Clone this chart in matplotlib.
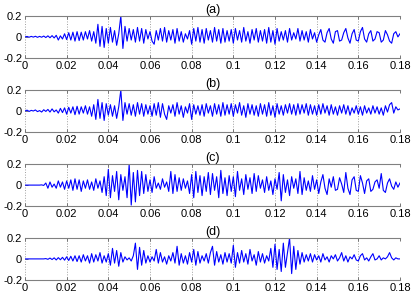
import numpy as np
import matplotlib
matplotlib.use("Agg")
import matplotlib.pyplot as plt

# sample spacing of the four records (s)
step = 0.001

# values, one per millisecond
sig_a = [
    0.000, 0.004, -0.003, 0.005, -0.002, 0.006, -0.004, 0.005, -0.003, 0.008,
    -0.006, 0.010, -0.008, 0.012, -0.010, 0.015, -0.030, 0.010, -0.020, 0.030,
    -0.025, 0.040, -0.030, 0.045, -0.040, 0.050, -0.035, 0.045, -0.030, 0.050,
    -0.020, 0.060, -0.040, 0.050, -0.060, 0.120, -0.090, 0.100, -0.100, 0.080,
    -0.060, 0.090, -0.050, 0.060, -0.080, 0.030, 0.200, -0.110, 0.100, -0.040,
    0.080, -0.030, 0.070, -0.050, 0.090, -0.040, 0.080, -0.060, 0.070, -0.020,
    0.050, -0.040, -0.070, 0.060, -0.030, 0.080, -0.040, 0.090, -0.050, 0.060,
    -0.030, 0.070, -0.060, 0.080, -0.040, 0.050, -0.050, 0.030, -0.020, 0.060,
    -0.070, 0.080, -0.040, 0.090, -0.050, 0.070, -0.060, 0.080, -0.030, 0.060,
    -0.050, 0.090, -0.040, 0.070, -0.060, 0.080, -0.050, 0.060, -0.040, 0.070,
    -0.060, 0.080, -0.030, 0.060, -0.050, 0.090, -0.040, 0.050, -0.060, 0.070,
    -0.030, 0.080, -0.050, 0.060, -0.040, 0.070, -0.060, 0.090, -0.050, 0.060,
    -0.070, 0.080, -0.040, 0.050, -0.030, 0.060, -0.050, 0.080, -0.030, 0.040,
    -0.020, 0.080, -0.040, 0.060, -0.030, 0.050, -0.050, 0.070, -0.020, 0.040,
    -0.050, 0.020, 0.070, -0.030, -0.050, 0.040, 0.080, -0.020, -0.060, 0.050,
    0.060, -0.040, -0.030, 0.040, 0.080, -0.010, -0.060, 0.030, 0.070, -0.030,
    -0.040, 0.050, 0.090, -0.020, -0.050, 0.030, 0.060, -0.040, -0.020, 0.050,
    0.040, -0.050, -0.030, 0.060, 0.020, -0.040, -0.060, 0.030, 0.050, 0.000,
    0.030,
]

sig_b = [
    0.000, 0.008, -0.004, 0.006, 0.000, 0.010, -0.006, 0.004, -0.010, 0.012,
    -0.004, 0.015, -0.010, 0.020, -0.008, 0.010, -0.020, 0.025, -0.015, 0.030,
    -0.030, 0.035, -0.020, 0.040, -0.035, 0.045, -0.030, 0.040, -0.020, 0.050,
    -0.030, 0.040, -0.050, 0.060, -0.080, 0.110, -0.070, 0.080, -0.090, 0.070,
    -0.040, 0.060, -0.050, 0.050, -0.070, 0.040, 0.200, -0.090, 0.080, -0.030,
    0.070, -0.040, 0.060, -0.050, 0.080, -0.030, 0.070, -0.050, 0.060, -0.030,
    0.050, -0.050, 0.070, -0.040, 0.080, -0.060, 0.070, -0.030, -0.080, 0.050,
    -0.020, 0.060, -0.050, 0.080, -0.030, 0.050, -0.060, 0.040, -0.020, 0.070,
    -0.080, 0.060, -0.030, 0.050, -0.040, 0.060, -0.050, 0.070, -0.020, 0.050,
    -0.050, 0.070, -0.030, 0.060, -0.050, 0.080, -0.040, 0.060, -0.030, 0.070,
    -0.050, 0.060, -0.020, 0.080, -0.040, 0.050, -0.060, 0.070, -0.030, 0.060,
    -0.040, 0.050, -0.050, 0.070, -0.030, 0.060, -0.050, 0.080, -0.040, 0.050,
    -0.060, 0.070, -0.030, 0.050, -0.040, 0.060, -0.020, 0.070, -0.030, 0.060,
    -0.040, 0.070, -0.030, 0.060, -0.020, 0.070, -0.040, 0.060, -0.030, 0.050,
    -0.040, 0.060, -0.030, 0.070, -0.020, 0.050, -0.040, 0.060, -0.030, 0.040,
    -0.040, 0.050, -0.020, 0.060, -0.030, 0.050, -0.040, 0.030, -0.020, 0.050,
    -0.030, 0.040, -0.040, 0.050, -0.020, 0.030, -0.030, 0.050, -0.020, 0.040,
    -0.030, 0.030, -0.040, 0.050, -0.010, 0.060, 0.080, -0.020, 0.040, 0.010,
    0.020,
]

sig_c = [
    0.000, 0.000, 0.000, 0.000, 0.000, 0.000, 0.000, 0.000, 0.002, -0.003,
    0.020, -0.030, 0.030, -0.020, 0.010, -0.030, 0.040, -0.020, 0.030, -0.040,
    0.040, -0.030, 0.050, -0.050, 0.060, -0.040, 0.050, -0.060, 0.040, -0.030,
    0.050, -0.040, 0.030, -0.050, 0.060, -0.030, 0.040, -0.070, 0.080, -0.100,
    0.150, -0.120, 0.090, -0.060, 0.130, -0.140, 0.100, -0.050, 0.080, -0.120,
    0.200, -0.190, 0.120, -0.160, 0.140, -0.100, 0.130, -0.080, 0.100, -0.060,
    0.050, -0.070, 0.080, -0.030, 0.020, -0.040, 0.060, -0.020, 0.030, -0.060,
    0.130, -0.080, 0.100, -0.060, 0.070, -0.050, 0.060, -0.030, 0.040, -0.080,
    0.100, -0.120, 0.130, -0.070, 0.090, -0.100, 0.080, -0.060, 0.120, -0.090,
    0.110, -0.050, 0.080, -0.120, 0.140, -0.080, 0.070, -0.100, 0.090, -0.060,
    0.080, -0.110, 0.130, -0.050, 0.060, -0.090, 0.100, -0.040, 0.070, -0.080,
    0.110, -0.060, 0.090, -0.030, 0.050, -0.070, 0.080, -0.050, 0.040, -0.090,
    0.060, -0.040, 0.120, -0.150, 0.100, -0.070, 0.050, -0.100, 0.080, -0.030,
    0.060, -0.080, 0.130, -0.090, 0.070, -0.050, 0.040, -0.060, 0.090, -0.040,
    0.050, -0.080, 0.030, 0.100, -0.030, -0.090, 0.060, -0.020, 0.080, -0.050,
    -0.040, 0.070, 0.010, -0.070, 0.120, -0.030, -0.090, 0.050, 0.080, -0.050,
    -0.060, 0.090, 0.020, -0.080, 0.040, 0.060, -0.060, -0.040, 0.030, 0.050,
    -0.030, 0.110, -0.050, -0.070, 0.020, 0.060, -0.010, -0.040, 0.030, -0.020,
    0.020,
]

sig_d = [
    0.000, 0.000, 0.000, 0.000, 0.000, 0.000, 0.000, 0.000, 0.000, 0.000,
    0.003, -0.004, 0.008, -0.006, 0.010, -0.010, 0.012, -0.008, 0.015, -0.012,
    0.020, -0.015, 0.025, -0.020, 0.030, -0.025, 0.030, -0.030, 0.040, -0.020,
    0.030, -0.040, 0.050, -0.030, 0.040, -0.020, 0.060, -0.040, 0.030, -0.030,
    0.050, -0.060, 0.100, -0.040, 0.080, -0.070, 0.060, -0.030, 0.020, -0.010,
    0.010, -0.020, 0.030, 0.150, -0.100, 0.110, -0.060, 0.080, -0.040, 0.030,
    -0.030, 0.020, -0.020, 0.090, -0.040, 0.060, -0.030, 0.020, -0.050, 0.030,
    -0.020, 0.060, -0.040, 0.120, -0.060, 0.050, -0.040, 0.030, -0.050, 0.060,
    -0.030, 0.090, -0.060, 0.070, -0.040, 0.030, -0.020, 0.050, -0.040, 0.060,
    0.120, -0.060, 0.070, -0.030, 0.040, -0.050, 0.060, -0.030, 0.050, -0.040,
    0.130, -0.080, 0.060, -0.040, 0.080, -0.030, 0.050, -0.050, 0.090, -0.020,
    0.040, -0.060, 0.070, -0.030, 0.050, -0.040, 0.030, -0.020, 0.100, -0.080,
    0.140, -0.100, 0.090, -0.120, 0.150, -0.080, 0.060, 0.200, -0.140, 0.120,
    -0.100, 0.080, -0.050, 0.060, -0.030, 0.040, -0.020, 0.050, -0.030, 0.040,
    -0.010, 0.030, -0.030, 0.050, -0.010, 0.020, -0.030, 0.030, 0.000, 0.040,
    -0.020, 0.010, 0.060, -0.020, 0.030, -0.030, 0.020, 0.000, 0.040, -0.010,
    -0.020, 0.030, 0.050, -0.010, 0.010, -0.020, 0.020, 0.050, -0.010, 0.000,
    0.030, -0.010, 0.010, 0.000, 0.020, 0.060, 0.010, -0.010, 0.010, 0.000,
    0.000,
]

titles = ["(a)", "(b)", "(c)", "(d)"]
x_ticks = [0, 0.02, 0.04, 0.06, 0.08, 0.1, 0.12, 0.14, 0.16, 0.18]
x_labels = ["0", "0.02", "0.04", "0.06", "0.08", "0.1", "0.12", "0.14", "0.16", "0.18"]
y_ticks = [-0.2, 0, 0.2]
y_labels = ["-0.2", "0", "0.2"]

plt.rcParams["font.family"] = ["Liberation Sans", "DejaVu Sans"]

fig = plt.figure(figsize=(4.13, 3.0), dpi=100)

# axes bottoms in figure fractions, top to bottom
bottoms = [0.807, 0.560, 0.313, 0.067]
left, width, height = 0.0605, 0.908, 0.140

for sig, title, bottom in zip([sig_a, sig_b, sig_c, sig_d], titles, bottoms):
    ax = fig.add_axes([left, bottom, width, height])
    t = np.arange(len(sig)) * step
    ax.plot(t, sig, color="#0000ff", lw=0.8)

    ax.set_xlim(0, 0.18)
    ax.set_ylim(-0.2, 0.2)
    ax.set_xticks(x_ticks)
    ax.set_xticklabels(x_labels)
    ax.set_yticks(y_ticks)
    ax.set_yticklabels(y_labels)
    ax.tick_params(direction="in", length=2, width=0.6, labelsize=8,
                   pad=2, colors="#606060", labelcolor="black",
                   top=True)
    ax.xaxis.grid(True, linestyle=":", color="#a0a0a0", lw=0.7)

    for side in ["left", "right"]:
        ax.spines[side].set_visible(False)
    for side in ["top", "bottom"]:
        ax.spines[side].set_color("#808080")
        ax.spines[side].set_linewidth(0.8)

    ax.set_title(title, fontsize=9, pad=2)

fig.savefig("out.png", dpi=100)
